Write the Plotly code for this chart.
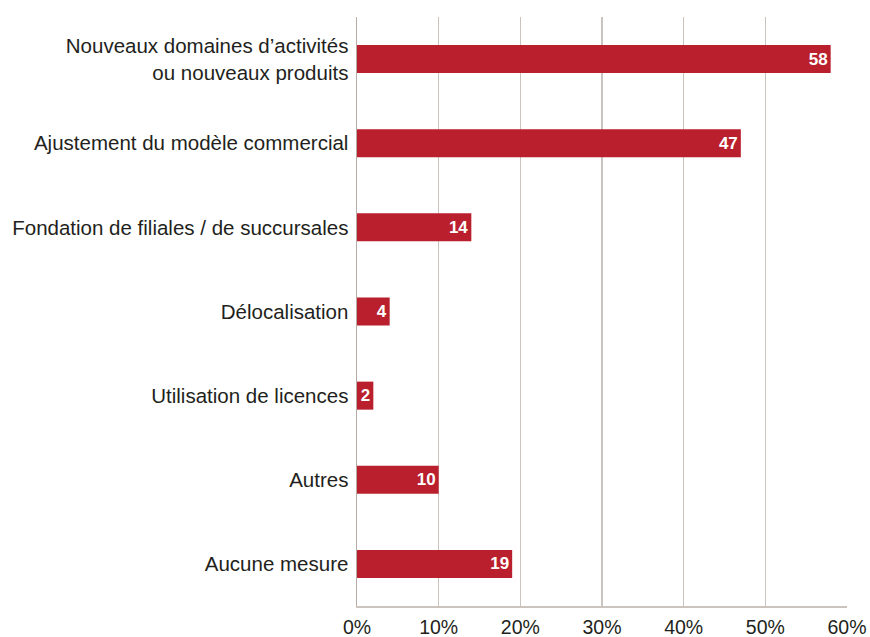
import plotly.graph_objects as go

categories = [
    "Nouveaux domaines d’activités<br>ou nouveaux produits",
    "Ajustement du modèle commercial",
    "Fondation de filiales / de succursales",
    "Délocalisation",
    "Utilisation de licences",
    "Autres",
    "Aucune mesure",
]
values = [58, 47, 14, 4, 2, 10, 19]
tick_vals = [0, 10, 20, 30, 40, 50, 60]
tick_text = ["0%", "10%", "20%", "30%", "40%", "50%", "60%"]

fig = go.Figure(
    go.Bar(
        x=values,
        y=categories,
        orientation="h",
        marker=dict(color="#BA1F2D", line=dict(width=0)),
        text=[str(v) for v in values],
        textposition="inside",
        insidetextanchor="end",
        constraintext="none",
        textfont=dict(family="Liberation Sans", size=17, color="white", weight="bold"),
        hoverinfo="skip",
    )
)

fig.update_layout(
    width=870,
    height=637,
    margin=dict(l=357, r=23, t=17, b=31),
    paper_bgcolor="white",
    plot_bgcolor="white",
    bargap=0.667,
    showlegend=False,
    font=dict(family="Liberation Sans", size=20.5, color="#231F20"),
)
fig.update_xaxes(
    range=[0, 60],
    tickvals=tick_vals,
    ticktext=tick_text,
    showgrid=True,
    gridcolor="#CBC3BE",
    gridwidth=1.5,
    zeroline=False,
    showline=True,
    linecolor="#CBC3BE",
    linewidth=1.5,
    ticks="",
    ticklabelstandoff=3,
    tickfont=dict(size=19.5),
    automargin=False,
    fixedrange=True,
)
fig.update_yaxes(
    autorange="reversed",
    showgrid=False,
    showline=True,
    linecolor="#B5ACA6",
    linewidth=1.5,
    ticks="",
    ticklabelstandoff=3,
    tickfont=dict(size=20.5),
    automargin=False,
    fixedrange=True,
)

fig.write_html(
    "out.html",
    config={"displayModeBar": False, "staticPlot": True},
    post_script="document.body.style.margin='0';document.body.style.overflow='hidden';",
)
